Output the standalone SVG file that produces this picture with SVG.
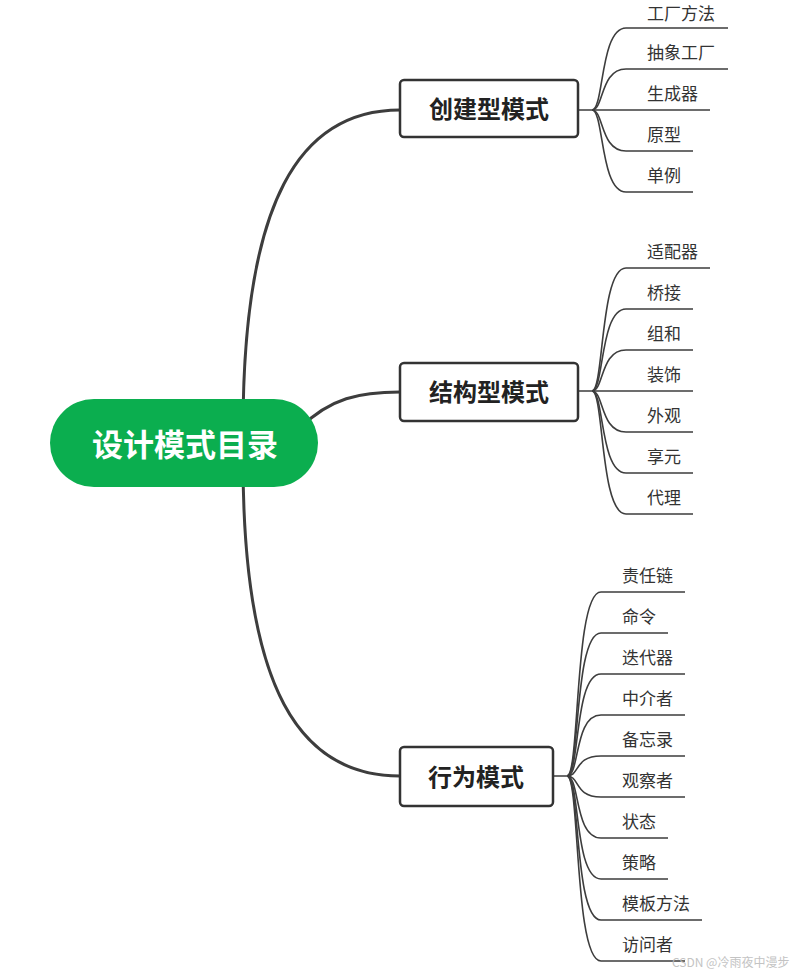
<svg xmlns="http://www.w3.org/2000/svg" width="798" height="972" viewBox="0 0 798 972">
<style>
.main{fill:none;stroke:#3d3d3d;stroke-width:3;stroke-linecap:round}
.leaf{fill:none;stroke:#3d3d3d;stroke-width:1.6}
.box{fill:#fff;stroke:#333;stroke-width:2.5}
.bt{font-family:"Noto Sans CJK SC","Noto Sans",sans-serif;font-weight:bold;font-size:24px;fill:#222;text-anchor:middle}
.lt{font-family:"Noto Sans CJK SC","Noto Sans",sans-serif;font-size:17px;fill:#333}
.rt{font-family:"Noto Sans CJK SC","Noto Sans",sans-serif;font-weight:bold;font-size:31px;fill:#fff;text-anchor:middle}
</style>
<rect width="798" height="972" fill="#fff"/>
<g id="connectors">
<path class="main" d="M243,430 C243,200 300,110 400,110"/>
<path class="main" d="M300,428 C330,398 360,392 400,392"/>
<path class="main" d="M243,460 C243,690 300,776 400,776"/>
<g id="leaves1">
<path class="leaf" d="M578,110 H592 C604,110 600,28 626,28 H728"/>
<path class="leaf" d="M592,110 C604,110 600,69 626,69 H728"/>
<path class="leaf" d="M592,110 H710"/>
<path class="leaf" d="M592,110 C604,110 600,151 626,151 H693"/>
<path class="leaf" d="M592,110 C604,110 600,192 626,192 H693"/>
</g>
<g id="leaves2">
<path class="leaf" d="M578,391 H592 C604,391 600,268 626,268 H710"/>
<path class="leaf" d="M592,391 C604,391 600,309 626,309 H693"/>
<path class="leaf" d="M592,391 C604,391 600,350 626,350 H693"/>
<path class="leaf" d="M592,391 H693"/>
<path class="leaf" d="M592,391 C604,391 600,432 626,432 H693"/>
<path class="leaf" d="M592,391 C604,391 600,473 626,473 H693"/>
<path class="leaf" d="M592,391 C604,391 600,514 626,514 H693"/>
</g>
<g id="leaves3">
<path class="leaf" d="M553,776 H567 C580,776 574,592 601,592 H685"/>
<path class="leaf" d="M567,776 C580,776 574,633 601,633 H668"/>
<path class="leaf" d="M567,776 C580,776 574,674 601,674 H685"/>
<path class="leaf" d="M567,776 C580,776 574,715 601,715 H685"/>
<path class="leaf" d="M567,776 C580,776 574,756 601,756 H685"/>
<path class="leaf" d="M567,776 C580,776 574,797 601,797 H685"/>
<path class="leaf" d="M567,776 C580,776 574,838 601,838 H668"/>
<path class="leaf" d="M567,776 C580,776 574,879 601,879 H668"/>
<path class="leaf" d="M567,776 C580,776 574,920 601,920 H702"/>
<path class="leaf" d="M567,776 C580,776 574,961 601,961 H685"/>
</g>
</g>
<g id="root">
<rect x="50" y="399" width="268" height="88" rx="44" fill="#0bae4f"/>
<text class="rt" x="185" y="456">设计模式目录</text>
</g>
<g id="creational">
<rect class="box" x="400" y="80" width="178" height="57" rx="4"/>
<text class="bt" x="489" y="118">创建型模式</text>
</g>
<g id="structural">
<rect class="box" x="400" y="363" width="178" height="58" rx="4"/>
<text class="bt" x="489" y="401">结构型模式</text>
</g>
<g id="behavioral">
<rect class="box" x="400" y="747" width="153" height="59" rx="4"/>
<text class="bt" x="476" y="786">行为模式</text>
</g>
<g id="leaf-texts1">
<text class="lt" x="647" y="20">工厂方法</text>
<text class="lt" x="647" y="59">抽象工厂</text>
<text class="lt" x="647" y="100">生成器</text>
<text class="lt" x="647" y="141">原型</text>
<text class="lt" x="647" y="182">单例</text>
</g>
<g id="leaf-texts2">
<text class="lt" x="647" y="258">适配器</text>
<text class="lt" x="647" y="299">桥接</text>
<text class="lt" x="647" y="340">组和</text>
<text class="lt" x="647" y="381">装饰</text>
<text class="lt" x="647" y="422">外观</text>
<text class="lt" x="647" y="463">享元</text>
<text class="lt" x="647" y="504">代理</text>
</g>
<g id="leaf-texts3">
<text class="lt" x="622" y="582">责任链</text>
<text class="lt" x="622" y="623">命令</text>
<text class="lt" x="622" y="664">迭代器</text>
<text class="lt" x="622" y="705">中介者</text>
<text class="lt" x="622" y="746">备忘录</text>
<text class="lt" x="622" y="787">观察者</text>
<text class="lt" x="622" y="828">状态</text>
<text class="lt" x="622" y="869">策略</text>
<text class="lt" x="622" y="910">模板方法</text>
<text class="lt" x="622" y="951">访问者</text>
</g>
<text x="672" y="967" font-family="'Noto Sans CJK SC','Noto Sans',sans-serif" font-size="12" fill="#bdbdbd" opacity="0.9">CSDN @冷雨夜中漫步</text>
</svg>
